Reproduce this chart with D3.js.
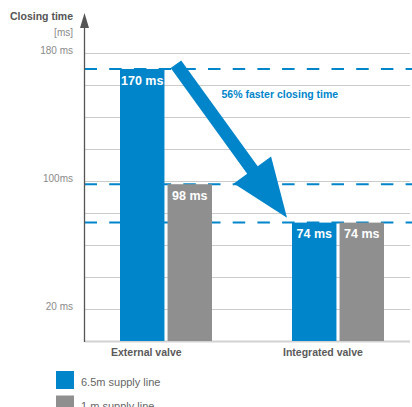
<!DOCTYPE html>
<html>
<head>
<meta charset="utf-8">
<script src="https://cdn.jsdelivr.net/npm/d3@7"></script>
<style>
  body { margin: 0; background: #fff; }
  svg { display: block; font-family: "Liberation Sans", Arial, sans-serif; }
</style>
</head>
<body>
<div id="chart"></div>
<script>
// the data
const categories = ['External valve', 'Integrated valve']
const seriesNames = ['6.5m supply line', '1 m supply line']
const longLine = [170, 74]
const shortLine = [98, 74]
const gridValues = [0, 20, 40, 60, 80, 100, 120, 140, 160, 180]
const tickValues = [180, 100, 20]
const tickLabels = ['180 ms', '100ms', '20 ms']
const refValues = [170, 98, 74]
const arrowFrom = 173
const arrowTo = 77
const note = '56% faster closing time'

const blue = '#0085cb'
const grey = '#8f8f8f'

var width = 412
var height = 407

var svg = d3.select('#chart').append('svg')
    .attr('width', width)
    .attr('height', height)

// scales
var axisX = 84.5
var x = d3.scaleBand().domain(categories).range([120, 384]).paddingInner(80 / 172)
var xs = d3.scaleBand().domain(seriesNames).range([0, x.bandwidth()]).paddingInner(0.065)
var y = d3.scaleLinear().domain([0, 180]).range([341, 53])

// grid
svg.append('g').selectAll('line')
    .data(gridValues.filter(d => d > 0))
    .join('line')
    .attr('x1', axisX).attr('x2', 410)
    .attr('y1', d => Math.round(y(d)) + 0.5)
    .attr('y2', d => Math.round(y(d)) + 0.5)
    .attr('stroke', '#cbcbcb')
    .attr('stroke-width', 1)

// baseline
svg.append('line')
    .attr('x1', axisX).attr('x2', 410)
    .attr('y1', y(0) + 0.5).attr('y2', y(0) + 0.5)
    .attr('stroke', '#d2d2d2')
    .attr('stroke-width', 2)

// dashed reference lines
svg.append('g').selectAll('line')
    .data(refValues)
    .join('line')
    .attr('x1', axisX).attr('x2', width)
    .attr('y1', d => y(d)).attr('y2', d => y(d))
    .attr('stroke', blue)
    .attr('stroke-width', 2)
    .attr('stroke-dasharray', '12.5,12.2')

// bars
var bars = []
categories.forEach((c, i) => {
    bars.push({ cat: c, s: seriesNames[0], v: longLine[i], color: blue })
    bars.push({ cat: c, s: seriesNames[1], v: shortLine[i], color: grey })
})
svg.append('g').selectAll('rect')
    .data(bars)
    .join('rect')
    .attr('x', d => x(d.cat) + xs(d.s))
    .attr('y', d => y(d.v))
    .attr('width', xs.bandwidth())
    .attr('height', d => y(0) - y(d.v))
    .attr('fill', d => d.color)

// value labels
svg.append('g').selectAll('text')
    .data(bars)
    .join('text')
    .attr('x', d => x(d.cat) + xs(d.s) + xs.bandwidth() / 2)
    .attr('y', d => y(d.v) + 15.5)
    .attr('text-anchor', 'middle')
    .attr('fill', '#fff')
    .attr('font-weight', 'bold')
    .attr('font-size', '12.5px')
    .text(d => d.v + ' ms')

// y axis with arrow
svg.append('line')
    .attr('x1', axisX).attr('x2', axisX)
    .attr('y1', 24).attr('y2', y(0) + 1)
    .attr('stroke', '#555')
    .attr('stroke-width', 1.3)
svg.append('path')
    .attr('d', `M${axisX},13 L${axisX + 4.5},28 L${axisX - 4.5},28 Z`)
    .attr('fill', '#555')

// y labels
svg.append('text')
    .attr('x', 73).attr('y', 19.5)
    .attr('text-anchor', 'end')
    .attr('font-weight', 'bold')
    .attr('font-size', '10.5px')
    .attr('fill', '#555')
    .text('Closing time')
svg.append('text')
    .attr('x', 73).attr('y', 35.5)
    .attr('text-anchor', 'end')
    .attr('font-size', '10px')
    .attr('fill', '#8a8a8a')
    .text('[ms]')
svg.append('g').selectAll('text')
    .data(tickValues)
    .join('text')
    .attr('x', 73)
    .attr('y', d => y(d) + 1)
    .attr('text-anchor', 'end')
    .attr('font-size', '10px')
    .attr('fill', '#8a8a8a')
    .text((d, i) => tickLabels[i])

// category labels
svg.append('g').selectAll('text')
    .data(categories)
    .join('text')
    .attr('x', d => x(d) - 9)
    .attr('y', 356)
    .attr('font-weight', 'bold')
    .attr('font-size', '10.5px')
    .attr('fill', '#5a5a5a')
    .text(d => d)

// the big arrow
var tail = [x(categories[0]) + xs(seriesNames[0]) + xs.bandwidth() + 11.5, y(arrowFrom)]
var tip = [x(categories[1]) - 5, y(arrowTo)]
var dx = tip[0] - tail[0], dy = tip[1] - tail[1]
var len = Math.sqrt(dx * dx + dy * dy)
var ux = dx / len, uy = dy / len
var nx = -uy, ny = ux
var shaftW = 13, headW = 46, headL = 59
var bx = tip[0] - ux * headL, by = tip[1] - uy * headL
var pts = [
    [tail[0] + nx * shaftW / 2, tail[1] + ny * shaftW / 2],
    [bx + nx * shaftW / 2, by + ny * shaftW / 2],
    [bx + nx * headW / 2, by + ny * headW / 2],
    tip,
    [bx - nx * headW / 2, by - ny * headW / 2],
    [bx - nx * shaftW / 2, by - ny * shaftW / 2],
    [tail[0] - nx * shaftW / 2, tail[1] - ny * shaftW / 2]
]
svg.append('path')
    .attr('d', d3.line()(pts) + 'Z')
    .attr('fill', blue)

svg.append('text')
    .attr('x', 221.5).attr('y', 97.5)
    .attr('font-weight', 'bold')
    .attr('font-size', '10.5px')
    .attr('fill', blue)
    .text(note)

// legend
var legend = svg.append('g').selectAll('g')
    .data(seriesNames)
    .join('g')
    .attr('transform', (d, i) => `translate(56,${371 + i * 24.5})`)
legend.append('rect')
    .attr('width', 18).attr('height', 18)
    .attr('fill', (d, i) => i === 0 ? blue : grey)
legend.append('text')
    .attr('x', 25).attr('y', 14.5)
    .attr('font-size', '11px')
    .attr('fill', '#666')
    .text(d => d)
</script>
</body>
</html>
